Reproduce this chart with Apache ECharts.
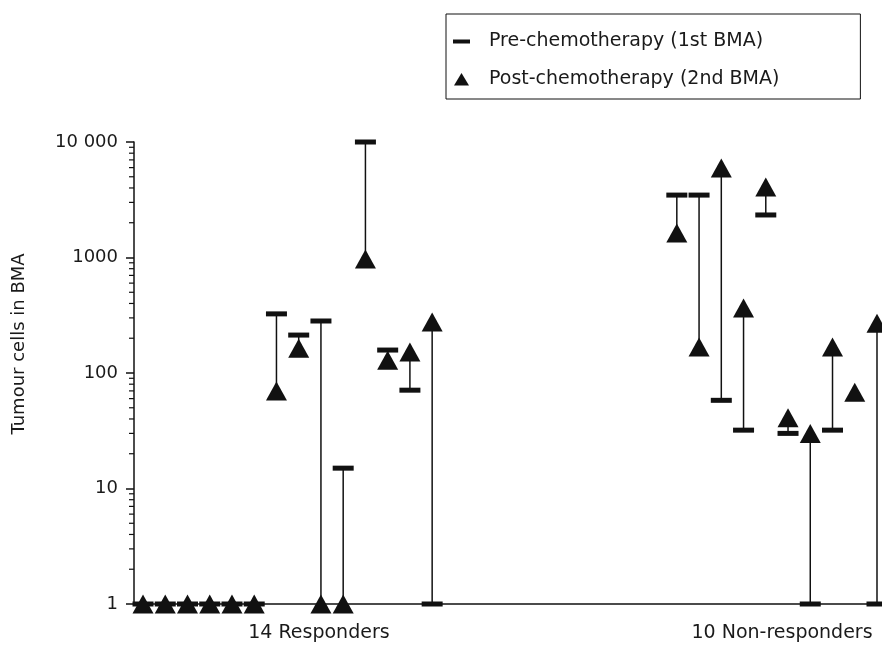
<!DOCTYPE html>
<html>
<head>
<meta charset="utf-8">
<script src="https://cdn.jsdelivr.net/npm/echarts@6/dist/echarts.min.js"></script>
<style>
html,body{margin:0;padding:0;background:#fff;}
#chart{width:882px;height:646px;}
</style>
</head>
<body>
<div id="chart"></div>
<script>
// ---- data ----
const groupLabels = ['14 Responders', '10 Non-responders'];
const patientSlots = [0,1,2,3,4,5,6,7,8,9,10,11,12,13, 24,25,26,27,28,29,30,31,32,33];
const preValues  = [1,1,1,1,1,1,325,213,282,15,10000,158,71,1, 3470,3470,58,32,2335,30,1,32,null,1];
const postValues = [1,1,1,1,1,1,70,164,1,1,970,129,152,276, 1630,168,5960,365,4080,41,30,168,68,270];
const yTickLabels = {1:'1', 10:'10', 100:'100', 1000:'1000', 10000:'10 000'};
const minorTickValues = [2,3,4,5,6,7,8,9,20,30,40,50,60,70,80,90,200,300,400,500,600,700,800,900,2000,3000,4000,5000,6000,7000,8000,9000];
const seriesNames = ['Pre-chemotherapy (1st BMA)', 'Post-chemotherapy (2nd BMA)'];

// ---- build ----
const connectorData = patientSlots.map((s, i) => [s, preValues[i], postValues[i]]);
const preData = patientSlots.map((s, i) => [s, preValues[i]]).filter(d => d[1] != null);
const postData = patientSlots.map((s, i) => [s, postValues[i]]).filter(d => d[1] != null);

const FONT = 'DejaVu Sans';
const INK = '#111';
const chart = echarts.init(document.getElementById('chart'), null, {renderer: 'canvas'});

const option = {
  backgroundColor: '#fff',
  animation: false,
  grid: {left: 134, right: 1, top: 142, bottom: 42, containLabel: false, outerBoundsMode: 'none'},
  legend: {
    orient: 'vertical',
    left: 446, top: 14,
    selectedMode: false,
    borderColor: INK, borderWidth: 1,
    padding: [18, 81, 10, 7],
    itemWidth: 17, itemHeight: 14, itemGap: 19,
    textStyle: {fontFamily: FONT, fontSize: 19, color: '#1a1a1a', padding: [0, 0, 0, 14]},
    data: [
      {name: seriesNames[0], icon: 'path://M0,0 M17,14 M0,5 L17,5 L17,9 L0,9 Z', itemStyle: {color: INK, opacity: 1}},
      {name: seriesNames[1], icon: 'path://M0,0 M17,14 M1,13 L8.5,0.5 L16,13 Z', itemStyle: {color: INK, opacity: 1}}
    ]
  },
  xAxis: {
    type: 'value', min: -0.405, max: 33.18,
    axisLine: {show: true, onZero: false, lineStyle: {color: INK, width: 1.5}},
    axisTick: {show: false},
    splitLine: {show: false},
    axisLabel: {
      customValues: [7.91, 28.73],
      formatter: v => (v < 18 ? groupLabels[0] : groupLabels[1]),
      margin: 20, fontFamily: FONT, fontSize: 19, color: '#1a1a1a'
    }
  },
  yAxis: {
    type: 'log', logBase: 10, min: 1, max: 10000,
    name: 'Tumour cells in BMA', nameLocation: 'middle', nameGap: 106, nameRotate: 90,
    nameTextStyle: {fontFamily: FONT, fontSize: 18, color: '#1a1a1a', padding: [0, 0, 0, 58]},
    axisLine: {show: true, onZero: false, lineStyle: {color: INK, width: 1.5}},
    axisTick: {show: true, inside: false, length: 8, lineStyle: {color: INK, width: 1.5}},
    minorTick: {show: false},
    splitLine: {show: false},
    axisLabel: {margin: 16, fontFamily: FONT, fontSize: 18, color: '#1a1a1a',
      formatter: v => yTickLabels[Math.round(v)] || ''}
  },
  series: [
    {
      type: 'custom', name: 'connector', silent: true, z: 1, clip: false,
      data: connectorData,
      encode: {x: 0, y: [1, 2]},
      renderItem: (params, api) => {
        const pre = api.value(1), post = api.value(2);
        if (pre == null || post == null || isNaN(pre) || isNaN(post) || pre === post) return null;
        const a = api.coord([api.value(0), pre]);
        const b = api.coord([api.value(0), post]);
        return {type: 'line', shape: {x1: a[0], y1: a[1], x2: b[0], y2: b[1]},
          style: {stroke: INK, lineWidth: 1.5}};
      }
    },
    {
      type: 'custom', name: 'minorTicks', silent: true, z: 3, clip: false,
      data: minorTickValues.map(v => [0, v]),
      encode: {y: 1},
      renderItem: (params, api) => {
        const p = api.coord([0, api.value(1)]);
        const x0 = params.coordSys.x;
        return {type: 'line', shape: {x1: x0 - 5, y1: p[1], x2: x0, y2: p[1]},
          style: {stroke: INK, lineWidth: 1.2}};
      }
    },
    {
      type: 'scatter', name: seriesNames[0], z: 2, clip: false,
      symbol: 'rect', symbolSize: [21, 5],
      itemStyle: {color: INK, opacity: 1},
      emphasis: {disabled: true},
      data: preData
    },
    {
      type: 'scatter', name: seriesNames[1], z: 3, clip: false,
      symbol: 'triangle', symbolSize: [21, 19],
      itemStyle: {color: INK, opacity: 1},
      emphasis: {disabled: true},
      data: postData
    }
  ]
};
chart.setOption(option);
</script>
</body>
</html>
